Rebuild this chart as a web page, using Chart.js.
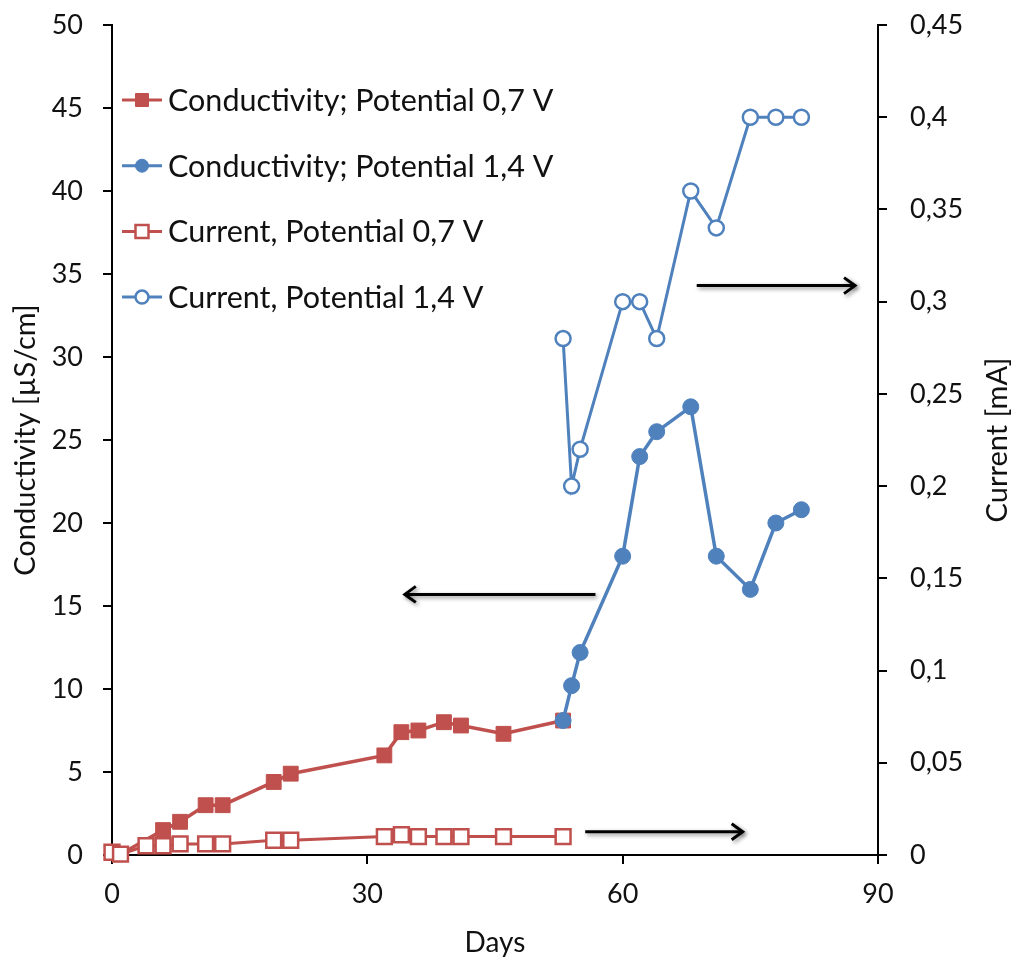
<!DOCTYPE html>
<html>
<head>
<meta charset="utf-8">
<script src="https://cdn.jsdelivr.net/npm/chart.js@4/dist/chart.umd.min.js"></script>
<style>
  html, body { margin: 0; padding: 0; background: #fff; }
  #wrap { width: 1014px; height: 960px; position: relative; }
</style>
</head>
<body>
<div id="wrap"><canvas id="c"></canvas></div>
<script>
// Conductivity at 0,7 V (left axis, µS/cm)
const daysCond07 = [0, 1, 6, 8, 11, 13, 19, 21, 32, 34, 36, 39, 41, 46, 53];
const cond07     = [0.15, 0.05, 1.5, 2.0, 3.0, 3.0, 4.4, 4.9, 6.0, 7.4, 7.5, 8.0, 7.8, 7.3, 8.1];

// Conductivity at 1,4 V (left axis, µS/cm)
const daysCond14 = [53, 54, 55, 60, 62, 64, 68, 71, 75, 78, 81];
const cond14     = [8.1, 10.2, 12.2, 18.0, 24.0, 25.5, 27.0, 18.0, 16.0, 20.0, 20.8];

// Current at 0,7 V (right axis, mA)
const daysCur07 = [0, 1, 4, 6, 8, 11, 13, 19, 21, 32, 34, 36, 39, 41, 46, 53];
const cur07     = [0.0015, 0.0005, 0.005, 0.005, 0.006, 0.006, 0.006, 0.008, 0.008, 0.01, 0.011, 0.01, 0.01, 0.01, 0.01, 0.01];

// Current at 1,4 V (right axis, mA)
const daysCur14 = [53, 54, 55, 60, 62, 64, 68, 71, 75, 78, 81];
const cur14     = [0.28, 0.20, 0.22, 0.30, 0.30, 0.28, 0.36, 0.34, 0.40, 0.40, 0.40];

// Axis tick settings
const xTicks = [0, 30, 60, 90];
const leftMax = 50, leftStep = 5;
const rightMax = 0.45, rightStep = 0.05;

// Arrows pointing each series to its axis (x in days, y in µS/cm)
const arrowFrom = [68.7, 56.8, 55.6];
const arrowTo   = [87.3, 34.4, 74.1];
const arrowY    = [34.3, 15.7, 1.4];

const RED = '#C0504D';
const BLUE = '#4F81BD';
const INK = '#111';
const FONT = 'Lato, "Open Sans", sans-serif';

const pts = (xs, ys) => xs.map((x, i) => ({ x, y: ys[i] }));
const comma = v => String(Math.round(v * 100) / 100).replace('.', ',');

const arrowPlugin = {
  id: 'arrows',
  afterDatasetsDraw(chart) {
    const { ctx, scales } = chart;
    ctx.save();
    ctx.strokeStyle = '#000';
    ctx.lineWidth = 3;
    ctx.shadowColor = 'rgba(0,0,0,0.45)';
    ctx.shadowBlur = 4;
    ctx.shadowOffsetX = 2;
    ctx.shadowOffsetY = 2;
    arrowFrom.forEach((f, i) => {
      const x0 = scales.x.getPixelForValue(f);
      const x1 = scales.x.getPixelForValue(arrowTo[i]);
      const y = scales.y.getPixelForValue(arrowY[i]);
      const dir = x1 > x0 ? 1 : -1;
      ctx.beginPath();
      ctx.moveTo(x0, y);
      ctx.lineTo(x1, y);
      ctx.stroke();
      ctx.beginPath();
      ctx.moveTo(x1 - dir * 11, y - 8);
      ctx.lineTo(x1, y);
      ctx.lineTo(x1 - dir * 11, y + 8);
      ctx.stroke();
    });
    ctx.restore();
  }
};

const legendPlugin = {
  id: 'insideLegend',
  afterDraw(chart) {
    const { ctx, chartArea } = chart;
    ctx.save();
    const left = chartArea.left + 10;
    let y = chartArea.top + 75;
    ctx.font = '30.5px ' + FONT;
    ctx.textBaseline = 'middle';
    ctx.textAlign = 'left';
    chart.data.datasets.forEach(ds => {
      ctx.strokeStyle = ds.borderColor;
      ctx.lineWidth = 3;
      ctx.beginPath();
      ctx.moveTo(left, y);
      ctx.lineTo(left + 40, y);
      ctx.stroke();
      const cx = left + 20;
      ctx.fillStyle = ds.pointBackgroundColor;
      ctx.strokeStyle = ds.pointBorderColor;
      ctx.lineWidth = ds.pointBorderWidth;
      ctx.beginPath();
      if (ds.pointStyle === 'rect') {
        ctx.rect(cx - 6.5, y - 6.5, 13, 13);
      } else {
        ctx.arc(cx, y, 6.5, 0, Math.PI * 2);
      }
      ctx.fill();
      ctx.stroke();
      ctx.fillStyle = INK;
      ctx.fillText(ds.label, left + 46, y + 1);
      y += 65.7;
    });
    ctx.restore();
  }
};

const rightTitlePlugin = {
  id: 'rightTitle',
  afterDraw(chart) {
    const { ctx, chartArea } = chart;
    ctx.save();
    ctx.translate(998, (chartArea.top + chartArea.bottom) / 2);
    ctx.rotate(-Math.PI / 2);
    ctx.font = '29px ' + FONT;
    ctx.fillStyle = INK;
    ctx.textAlign = 'center';
    ctx.textBaseline = 'middle';
    ctx.fillText('Current [mA]', 0, 0);
    ctx.restore();
  }
};

const axisCommon = {
  grid: { drawOnChartArea: false, drawTicks: true, tickLength: 9, color: '#000', lineWidth: 2 },
  border: { display: true, color: '#000', width: 2 },
};

const fitVertical = w => s => { s.width = w; s.paddingTop = 0; s.paddingBottom = 0; };

new Chart(document.getElementById('c'), {
  type: 'line',
  data: {
    datasets: [
      {
        label: 'Conductivity; Potential 0,7 V',
        data: pts(daysCond07, cond07),
        yAxisID: 'y', order: 4, clip: false,
        borderColor: RED, borderWidth: 3.5,
        pointStyle: 'rect', pointRadius: 10.5,
        pointBackgroundColor: RED, pointBorderColor: RED, pointBorderWidth: 1,
      },
      {
        label: 'Conductivity; Potential 1,4 V',
        data: pts(daysCond14, cond14),
        yAxisID: 'y', order: 3, clip: false,
        borderColor: BLUE, borderWidth: 3.5,
        pointStyle: 'circle', pointRadius: 8,
        pointBackgroundColor: BLUE, pointBorderColor: BLUE, pointBorderWidth: 1,
      },
      {
        label: 'Current, Potential 0,7 V',
        data: pts(daysCur07, cur07),
        yAxisID: 'y1', order: 2, clip: false,
        borderColor: RED, borderWidth: 3,
        pointStyle: 'rect', pointRadius: 10.5,
        pointBackgroundColor: '#fff', pointBorderColor: RED, pointBorderWidth: 2.5,
      },
      {
        label: 'Current, Potential 1,4 V',
        data: pts(daysCur14, cur14),
        yAxisID: 'y1', order: 1, clip: false,
        borderColor: BLUE, borderWidth: 3,
        pointStyle: 'circle', pointRadius: 7.5,
        pointBackgroundColor: '#fff', pointBorderColor: BLUE, pointBorderWidth: 2.5,
      },
    ]
  },
  options: {
    responsive: true,
    maintainAspectRatio: false,
    animation: false,
    layout: { padding: { top: 25, left: 0, right: 0, bottom: 0 } },
    plugins: { legend: { display: false }, tooltip: { enabled: false } },
    scales: {
      x: {
        type: 'linear', position: 'bottom', min: 0, max: 90,
        afterFit: s => { s.height = 105; s.paddingLeft = 0; s.paddingRight = 0; },
        afterBuildTicks: s => { s.ticks = xTicks.map(v => ({ value: v })); },
        ticks: { font: { family: FONT, size: 27 }, color: INK, padding: 14, maxRotation: 0 },
        title: { display: true, text: 'Days', font: { family: FONT, size: 28 }, color: INK, padding: { top: 0, bottom: 0 } },
        ...axisCommon,
      },
      y: {
        type: 'linear', position: 'left', min: 0, max: leftMax,
        afterFit: fitVertical(112),
        ticks: { stepSize: leftStep, font: { family: FONT, size: 27 }, color: INK, padding: 20 },
        title: { display: true, text: 'Conductivity [µS/cm]', font: { family: FONT, size: 29 }, color: INK, padding: { top: 8, bottom: 0 } },
        ...axisCommon,
      },
      y1: {
        type: 'linear', position: 'right', min: 0, max: rightMax,
        afterFit: fitVertical(136),
        ticks: { stepSize: rightStep, font: { family: FONT, size: 27 }, color: INK, padding: 23, callback: v => comma(v) },
        ...axisCommon,
      },
    }
  },
  plugins: [arrowPlugin, legendPlugin, rightTitlePlugin]
});
</script>
</body>
</html>
